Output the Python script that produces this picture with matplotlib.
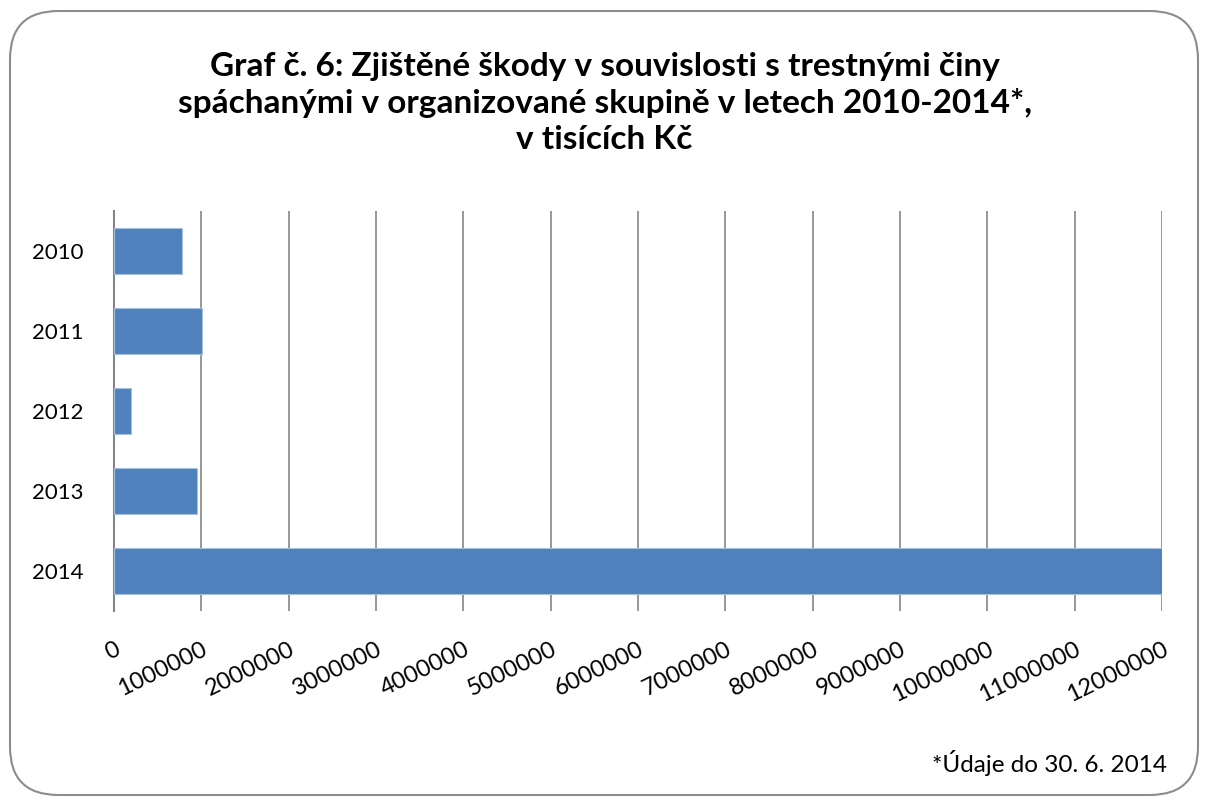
import numpy as np
import matplotlib.pyplot as plt
from matplotlib.patches import FancyBboxPatch

# data (v tisících Kč)
roky = ["2010", "2011", "2012", "2013", "2014"]
skody = [778000, 1010000, 200000, 950000, 12030000]
x_ticks = [0, 1000000, 2000000, 3000000, 4000000, 5000000, 6000000,
           7000000, 8000000, 9000000, 10000000, 11000000, 12000000]

plt.rcParams['font.family'] = ['Lato', 'DejaVu Sans']

W, H = 1209, 805
fig = plt.figure(figsize=(W / 100, H / 100), dpi=100)

# ramecek se zaoblenymi rohy
ramecek = FancyBboxPatch((10 / W, 10 / H), 1188 / W, 784 / H,
                         boxstyle="round,pad=0,rounding_size=0.04",
                         transform=fig.transFigure, fill=False,
                         edgecolor='#8c8c8c', linewidth=1.5, mutation_aspect=W / H)
fig.patches.append(ramecek)

ax = fig.add_axes([114 / W, 1 - 611 / H, (1162 - 114) / W, 400 / H])

y = np.arange(len(roky))
ax.barh(y, skody, height=0.575, color='#4f81bd', edgecolor='#a7c0de',
        linewidth=0.8, zorder=3)
ax.set_ylim(len(roky) - 0.5, -0.5)
ax.set_xlim(0, 12000000)
ax.set_yticks(y)
ax.set_yticklabels(roky, fontsize=16)
ax.set_xticks(x_ticks)
ax.set_xticklabels([str(t) for t in x_ticks], fontsize=17, rotation=26,
                   ha='right', rotation_mode='anchor')
ax.tick_params(axis='y', length=0, pad=22)
ax.tick_params(axis='x', length=0, pad=20)

ax.grid(axis='x', color='#868686', linewidth=1.2, zorder=0)
for s in ['top', 'right', 'bottom']:
    ax.spines[s].set_visible(False)
ax.spines['left'].set_color('#868686')
ax.spines['left'].set_linewidth(1.5)

fig.text(0.5, 1 - 103 / H,
         "Graf č. 6: Zjištěné škody v souvislosti s trestnými činy\n"
         "spáchanými v organizované skupině v letech 2010-2014*,\n"
         "v tisících Kč",
         ha='center', va='center', fontsize=24, fontweight='bold',
         linespacing=1.3)

fig.text(1167 / W, 1 - 763 / H, "*Údaje do 30. 6. 2014", ha='right',
         va='center', fontsize=17.5)

fig.savefig("out.png", dpi=100)
